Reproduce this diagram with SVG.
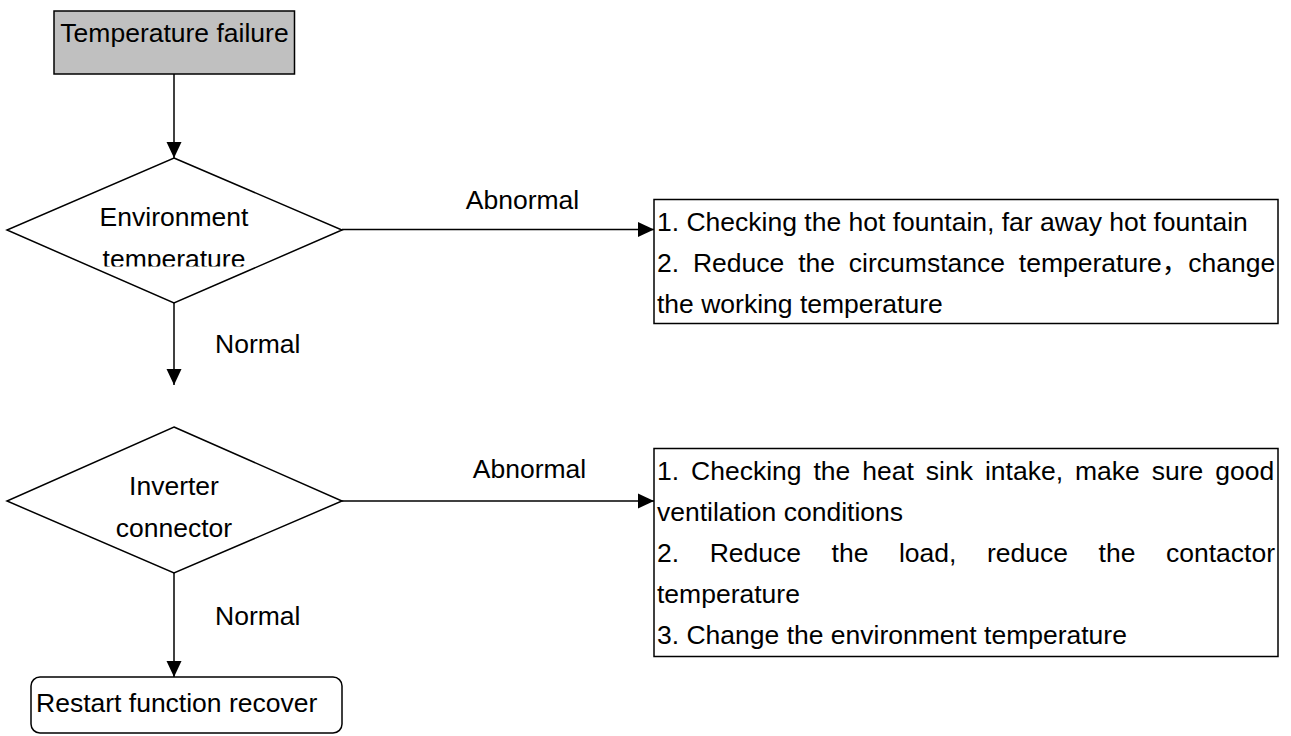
<svg xmlns="http://www.w3.org/2000/svg" width="1291" height="736" viewBox="0 0 1291 736">
<style>
text{font-family:"Liberation Sans","Noto Sans CJK SC",Arial,sans-serif;font-size:26.5px;fill:#000}
.shape{fill:#fff;stroke:#000;stroke-width:1.5}
.start{fill:#c0c0c0;stroke:#000;stroke-width:1.5}
.conn{fill:none;stroke:#000;stroke-width:1.5}
.mid{text-anchor:middle}
</style>
<defs>
<marker id="arr" markerWidth="16" markerHeight="16" viewBox="0 0 16 16" refX="16" refY="8" orient="auto" markerUnits="userSpaceOnUse">
<path d="M0,0.5 L16,8 L0,15.5 Z" fill="#000"/>
</marker>
<clipPath id="clipEnv"><rect x="0" y="180" width="350" height="86.5"/></clipPath>
</defs>
<rect width="1291" height="736" fill="#fff"/>

<g id="connectors">
<line class="conn" x1="174" y1="74" x2="174" y2="158" marker-end="url(#arr)"/>
<line class="conn" x1="174" y1="303" x2="174" y2="385" marker-end="url(#arr)"/>
<line class="conn" x1="342" y1="229.5" x2="654" y2="229.5" marker-end="url(#arr)"/>
<line class="conn" x1="342" y1="501" x2="654" y2="501" marker-end="url(#arr)"/>
<line class="conn" x1="174" y1="573" x2="174" y2="677" marker-end="url(#arr)"/>
<text x="522.5" y="209" class="mid">Abnormal</text>
<text x="215" y="353">Normal</text>
<text x="529.5" y="478" class="mid">Abnormal</text>
<text x="215" y="625">Normal</text>
</g>

<g id="start">
<rect class="start" x="54" y="11" width="240.5" height="63"/>
<text x="174.5" y="42" class="mid">Temperature failure</text>
</g>

<g id="env">
<polygon class="shape" points="174,158 342,230 174,303 7,230"/>
<g clip-path="url(#clipEnv)">
<text x="174" y="226" class="mid">Environment</text>
<text x="174" y="268" class="mid">temperature</text>
</g>
</g>

<g id="action1">
<rect class="shape" x="654" y="199.5" width="624" height="124"/>
<text x="657" y="231">1. Checking the hot fountain, far away hot fountain</text>
<text x="657" y="272" word-spacing="6.5">2. Reduce the circumstance temperature，change</text>
<text x="657" y="313">the working temperature</text>
</g>

<g id="inverter">
<polygon class="shape" points="174,427 342,501 174,573 7,501"/>
<text x="174" y="495" class="mid">Inverter</text>
<text x="174" y="537" class="mid">connector</text>
</g>

<g id="action2">
<rect class="shape" x="654" y="448.5" width="624" height="208"/>
<text x="657" y="480" word-spacing="4.6">1. Checking the heat sink intake, make sure good</text>
<text x="657" y="521">ventilation conditions</text>
<text x="657" y="562" word-spacing="23.2">2. Reduce the load, reduce the contactor</text>
<text x="657" y="603">temperature</text>
<text x="657" y="644">3. Change the environment temperature</text>
</g>

<g id="restart">
<rect class="shape" x="31" y="677" width="311" height="56" rx="9" ry="9"/>
<text x="36" y="712">Restart function recover</text>
</g>
</svg>
